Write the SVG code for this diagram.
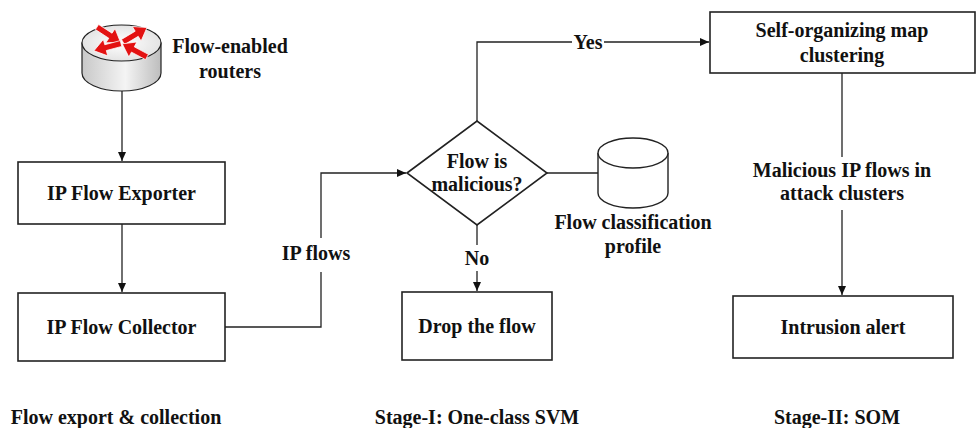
<svg xmlns="http://www.w3.org/2000/svg" width="977" height="428" viewBox="0 0 977 428">
<defs>
<marker id="ah" markerWidth="10" markerHeight="10" refX="9" refY="5" orient="auto" markerUnits="userSpaceOnUse">
<path d="M0,1 L9,5 L0,9 Z" fill="#111"/>
</marker>
<linearGradient id="rbody" x1="0" y1="0" x2="1" y2="0">
<stop offset="0" stop-color="#c8c8c8"/>
<stop offset="0.55" stop-color="#f4f4f4"/>
<stop offset="1" stop-color="#bdbdbd"/>
</linearGradient>
<radialGradient id="rtop" cx="0.5" cy="0.5" r="0.6">
<stop offset="0" stop-color="#ffffff"/>
<stop offset="1" stop-color="#dedede"/>
</radialGradient>
<polygon id="rarrow" points="0,-3 16,-3 16,-8.5 28,0 16,8.5 16,3 0,3"/>
<style>
.t{font-family:"Liberation Serif","Times New Roman",serif;font-weight:bold;font-size:20px;fill:#111;text-anchor:middle}
.box{fill:#fff;stroke:#222;stroke-width:1.6}
.c{fill:none;stroke:#222;stroke-width:1.3}
</style>
</defs>
<rect width="977" height="428" fill="#fff"/>

<g id="connectors">
<path class="c" d="M122,91 V161" marker-end="url(#ah)"/>
<path class="c" d="M122,224 V292" marker-end="url(#ah)"/>
<path class="c" d="M225,327 H321 V272 M321,238 V173 H406" marker-end="url(#ah)"/>
<path class="c" d="M477,121 V42 H572 M604,42 H709" marker-end="url(#ah)"/>
<path class="c" d="M547,173 H598"/>
<path class="c" d="M477,225 V245 M477,271 V291" marker-end="url(#ah)"/>
<path class="c" d="M842,73 V157 M842,210 V295" marker-end="url(#ah)"/>
<text class="t" x="316" y="260">IP flows</text>
<text class="t" x="588" y="49">Yes</text>
<text class="t" x="477" y="265">No</text>
<text class="t" x="842" y="177">Malicious IP flows in</text>
<text class="t" x="842" y="200">attack clusters</text>
</g>

<g id="router">
<path d="M82,43 V73 A39.5,18 0 0 0 161,73 V43 Z" fill="url(#rbody)" stroke="#222" stroke-width="1.2"/>
<ellipse cx="121.5" cy="43" rx="39.5" ry="18" fill="url(#rtop)" stroke="#222" stroke-width="1.2"/>
<g fill="#e31212" stroke="#fff" stroke-width="0.7">
<use href="#rarrow" transform="translate(97,27) rotate(33)"/>
<use href="#rarrow" transform="translate(123,42) rotate(-31)"/>
<use href="#rarrow" transform="translate(121,43.5) rotate(165)"/>
<use href="#rarrow" transform="translate(147,57) rotate(208)"/>
</g>
<text class="t" x="230" y="53">Flow-enabled</text>
<text class="t" x="230" y="78">routers</text>
</g>

<g id="exporter">
<rect class="box" x="18" y="162" width="207" height="62"/>
<text class="t" x="121.5" y="200">IP Flow Exporter</text>
</g>

<g id="collector">
<rect class="box" x="18" y="293" width="207" height="68"/>
<text class="t" x="121.5" y="334">IP Flow Collector</text>
</g>

<g id="decision">
<polygon class="box" points="407,173 477,121 547,173 477,225"/>
<text class="t" x="477" y="168">Flow is</text>
<text class="t" x="477" y="191">malicious?</text>
</g>

<g id="profile">
<path d="M598,153 V193 A35,15 0 0 0 668,193 V153" fill="#fff" stroke="#222" stroke-width="1.4"/>
<ellipse cx="633" cy="153" rx="35" ry="15" fill="#fff" stroke="#222" stroke-width="1.4"/>
<text class="t" x="633" y="229">Flow classification</text>
<text class="t" x="633" y="253">profile</text>
</g>

<g id="drop">
<rect class="box" x="402" y="292" width="150" height="68"/>
<text class="t" x="477" y="333">Drop the flow</text>
</g>

<g id="som">
<rect class="box" x="710" y="12" width="265" height="61"/>
<text class="t" x="842" y="37">Self-organizing map</text>
<text class="t" x="842" y="62">clustering</text>
</g>

<g id="alert">
<rect class="box" x="733" y="296" width="220" height="62"/>
<text class="t" x="843" y="334">Intrusion alert</text>
</g>

<g id="stages">
<text class="t" x="116" y="424">Flow export &amp; collection</text>
<text class="t" x="477" y="424">Stage-I: One-class SVM</text>
<text class="t" x="837" y="424">Stage-II: SOM</text>
</g>
</svg>
